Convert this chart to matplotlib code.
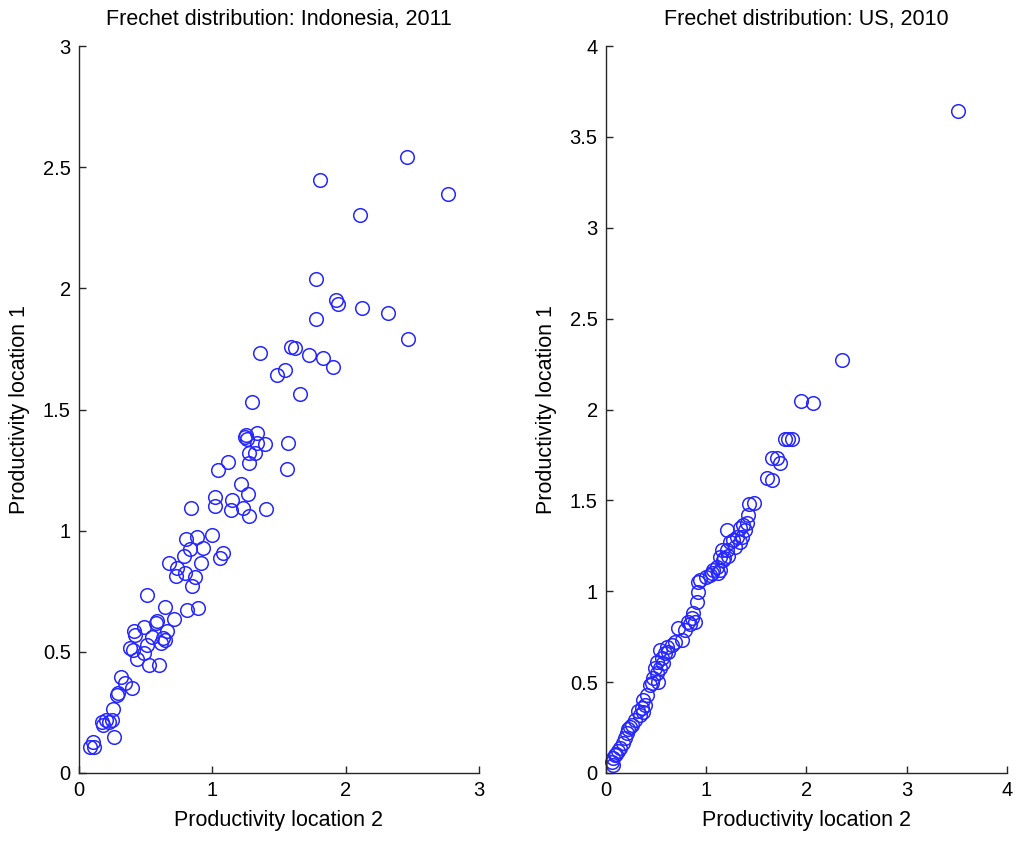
import matplotlib
matplotlib.use("Agg")
import matplotlib.pyplot as plt

plt.rcParams['font.family'] = ['Liberation Sans', 'DejaVu Sans']

# Indonesia 2011: productivity location 2 (x) and location 1 (y)
indo_x = [2.461, 2.768, 1.808, 2.108, 1.778, 1.928, 1.943, 1.778, 2.123, 2.318,
          2.468, 1.905, 1.830, 1.725, 1.620, 1.590, 1.545, 1.485, 1.658, 1.358,
          1.298, 1.335, 1.253, 1.245, 1.260, 1.335, 1.395, 1.568, 1.275, 1.320,
          1.275, 1.118, 1.043, 1.560, 1.215, 1.268, 1.020, 1.020, 1.148, 1.140,
          1.230, 1.275, 1.403, 0.840, 0.998, 0.803, 0.885, 0.930, 0.833, 1.080,
          0.788, 1.058, 0.915, 0.675, 0.735, 0.728, 0.795, 0.870, 0.848, 0.510,
          0.645, 0.810, 0.893, 0.713, 0.585, 0.578, 0.488, 0.660, 0.413, 0.420,
          0.548, 0.630, 0.645, 0.615, 0.510, 0.383, 0.405, 0.488, 0.435, 0.525,
          0.600, 0.315, 0.345, 0.398, 0.293, 0.285, 0.255, 0.203, 0.173, 0.225,
          0.180, 0.248, 0.263, 0.105, 0.083, 0.113]
indo_y = [2.542, 2.390, 2.447, 2.303, 2.039, 1.952, 1.936, 1.874, 1.919, 1.898,
          1.791, 1.676, 1.713, 1.725, 1.754, 1.758, 1.663, 1.643, 1.564, 1.733,
          1.531, 1.403, 1.395, 1.387, 1.378, 1.362, 1.358, 1.362, 1.321, 1.321,
          1.279, 1.284, 1.251, 1.255, 1.193, 1.151, 1.139, 1.102, 1.127, 1.085,
          1.094, 1.061, 1.090, 1.094, 0.982, 0.966, 0.974, 0.929, 0.924, 0.908,
          0.896, 0.887, 0.867, 0.867, 0.846, 0.813, 0.825, 0.809, 0.772, 0.735,
          0.685, 0.673, 0.681, 0.636, 0.627, 0.619, 0.603, 0.586, 0.586, 0.570,
          0.561, 0.557, 0.549, 0.537, 0.528, 0.516, 0.508, 0.495, 0.470, 0.446,
          0.446, 0.396, 0.371, 0.351, 0.330, 0.322, 0.264, 0.219, 0.210, 0.210,
          0.198, 0.219, 0.149, 0.128, 0.107, 0.107]

# US 2010
us_x = [3.510, 2.353, 1.944, 2.064, 1.785, 1.815, 1.854, 1.655, 1.705, 1.735,
        1.605, 1.655, 1.476, 1.426, 1.416, 1.406, 1.366, 1.336, 1.386, 1.206,
        1.356, 1.266, 1.236, 1.336, 1.286, 1.157, 1.206, 1.137, 1.166, 1.216,
        1.107, 1.067, 1.137, 1.117, 1.057, 0.937, 0.917, 0.917, 0.907, 0.867,
        0.857, 0.818, 0.887, 0.718, 0.788, 0.758, 0.688, 0.658, 0.608, 0.538,
        0.588, 0.558, 0.508, 0.568, 0.489, 0.538, 0.508, 0.469, 0.518, 0.409,
        0.369, 0.389, 0.359, 0.369, 0.339, 0.259, 0.239, 0.209, 0.189, 0.169,
        0.140, 0.090, 0.070, 0.060, 0.070, 0.997, 1.037, 1.306, 0.439, 0.459,
        0.289, 0.319, 0.119, 0.100, 0.219, 0.618, 0.837, 1.177]
us_y = [3.642, 2.272, 2.047, 2.036, 1.838, 1.838, 1.838, 1.733, 1.733, 1.706,
        1.623, 1.612, 1.486, 1.480, 1.420, 1.376, 1.365, 1.348, 1.337, 1.337,
        1.298, 1.282, 1.271, 1.271, 1.243, 1.227, 1.227, 1.188, 1.172, 1.194,
        1.133, 1.117, 1.117, 1.100, 1.100, 1.062, 1.051, 0.996, 0.941, 0.880,
        0.853, 0.831, 0.831, 0.798, 0.787, 0.732, 0.721, 0.704, 0.693, 0.677,
        0.660, 0.633, 0.611, 0.605, 0.578, 0.578, 0.550, 0.523, 0.501, 0.429,
        0.402, 0.374, 0.358, 0.336, 0.319, 0.264, 0.253, 0.220, 0.193, 0.165,
        0.138, 0.099, 0.083, 0.061, 0.044, 1.078, 1.089, 1.298, 0.484, 0.496,
        0.290, 0.341, 0.120, 0.104, 0.242, 0.666, 0.820, 1.183]

panels = [
    dict(x=indo_x, y=indo_y, title='Frechet distribution: Indonesia, 2011',
         lim=3, ticks=[0, 1, 2, 3], yticks=[0, 0.5, 1, 1.5, 2, 2.5, 3],
         yticklabels=['0', '0.5', '1', '1.5', '2', '2.5', '3'],
         rect=[79 / 1020, 70 / 843, 400 / 1020, 727 / 843]),
    dict(x=us_x, y=us_y, title='Frechet distribution: US, 2010',
         lim=4, ticks=[0, 1, 2, 3, 4], yticks=[0, 0.5, 1, 1.5, 2, 2.5, 3, 3.5, 4],
         yticklabels=['0', '0.5', '1', '1.5', '2', '2.5', '3', '3.5', '4'],
         rect=[606 / 1020, 70 / 843, 401 / 1020, 727 / 843]),
]

fig = plt.figure(figsize=(10.2, 8.43), dpi=100)
fs_lab = 15.5
fs_tick = 14.5
for p in panels:
    ax = fig.add_axes(p['rect'])
    ax.plot(p['x'], p['y'], linestyle='none', marker='o', ms=9.8,
            mfc='none', mec=(0.15, 0.15, 1.0), mew=1.1, clip_on=False)
    ax.set_xlim(0, p['lim'])
    ax.set_ylim(0, p['lim'])
    ax.set_xticks(p['ticks'])
    ax.set_xticklabels([str(t) for t in p['ticks']])
    ax.set_yticks(p['yticks'])
    ax.set_yticklabels(p['yticklabels'])
    for s in ['top', 'right']:
        ax.spines[s].set_visible(False)
    for s in ['left', 'bottom']:
        ax.spines[s].set_color('#262626')
        ax.spines[s].set_linewidth(1.0)
    ax.tick_params(direction='in', length=5, width=1.0, color='#262626',
                   labelsize=fs_tick, pad=6)
    ax.set_title(p['title'], fontsize=fs_lab, pad=15)
    ax.set_xlabel('Productivity location 2', fontsize=fs_lab, labelpad=7)
    ax.set_ylabel('Productivity location 1', fontsize=fs_lab, labelpad=9)

fig.savefig('out.png', dpi=100, facecolor='white')
